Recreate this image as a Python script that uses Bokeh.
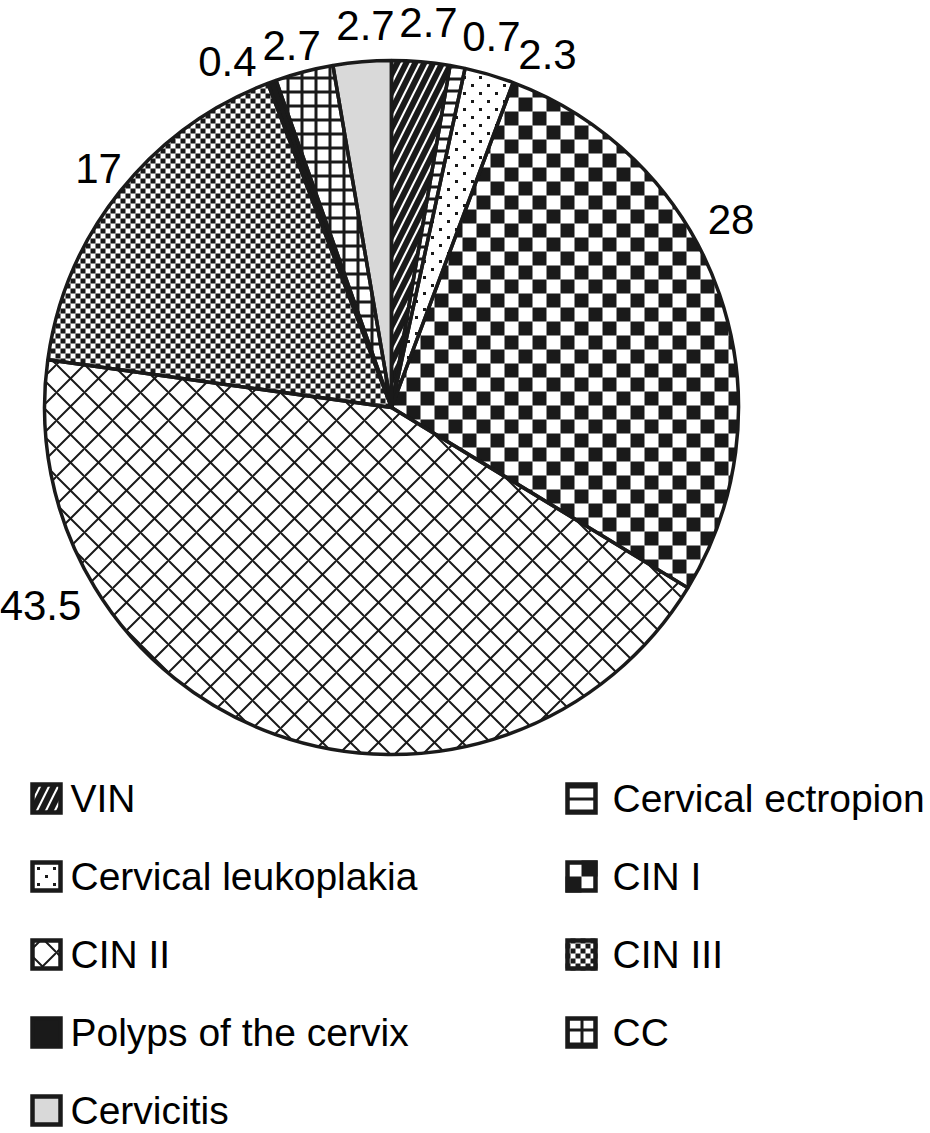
import math
from bokeh.plotting import figure
from bokeh.models import Range1d, ColumnDataSource
from bokeh.core.properties import value
from bokeh.embed import file_html
from bokeh.resources import INLINE

# ---------------- data ----------------
categories = ["VIN", "Cervical ectropion", "Cervical leukoplakia", "CIN I", "CIN II",
              "CIN III", "Polyps of the cervix", "CC", "Cervicitis"]
values = [2.7, 0.7, 2.3, 28, 43.5, 17, 0.4, 2.7, 2.7]
value_labels = ["2.7", "0.7", "2.3", "28", "43.5", "17", "0.4", "2.7", "2.7"]

# ---------------- layout / style ----------------
W, H = 930, 1133
CX, CY, R = 391, H - 407, 347
FONT = "Liberation Sans"
NUM_SIZE = "42px"
LEG_SIZE = "39px"
INK = "#1a1a1a"

# label placement (angle clockwise from 12 o'clock, distance from centre)
label_angle_deg = [5.49, 15.08, 23.84, 61.06, 240.57, 309.21, 334.64, 344.60, 356.11]
label_dist = [387, 384, 386, 388, 403, 378, 383, 376, 383]

# legend layout (screen px): two columns, rows top-down
leg_cols_x = [30, 565]          # icon left edge per column
leg_text_gap = [8, 15]
leg_row_y0, leg_row_dy = 798, 78
leg_icon = 32
leg_col_of = [0, 1, 0, 1, 0, 1, 0, 1, 0]
leg_row_of = [0, 0, 1, 1, 2, 2, 3, 3, 4]

# fill styles: ("hatch", kwargs) builtin hatch; ("checker", cell); ("dots", spacing); ("solid", color)
styles = [
    ("hatch", dict(hatch_pattern="right_diagonal_line", hatch_scale=18, hatch_weight=6)),
    ("hatch", dict(hatch_pattern="horizontal_line", hatch_scale=12, hatch_weight=3)),
    ("dots", 16),
    ("checker", 14),
    ("hatch", dict(hatch_pattern="diagonal_cross", hatch_scale=28, hatch_weight=2)),
    ("checker", 5),
    ("solid", INK),
    ("hatch", dict(hatch_pattern="cross", hatch_scale=14, hatch_weight=3)),
    ("solid", "#d9d9d9"),
]


# ---------------- geometry helpers ----------------
def clip_convex(subject, clipper):
    area = 0.0
    for i in range(len(clipper)):
        x0, y0 = clipper[i]
        x1, y1 = clipper[(i + 1) % len(clipper)]
        area += x0 * y1 - x1 * y0
    sgn = 1.0 if area > 0 else -1.0
    out = list(subject)
    for i in range(len(clipper)):
        if not out:
            break
        ax, ay = clipper[i]
        bx, by = clipper[(i + 1) % len(clipper)]

        def side(pt):
            return sgn * ((bx - ax) * (pt[1] - ay) - (by - ay) * (pt[0] - ax))

        inp, out = out, []
        s = inp[-1]
        ss = side(s)
        for e in inp:
            se = side(e)
            if se >= 0:
                if ss < 0:
                    t = ss / (ss - se)
                    out.append((s[0] + t * (e[0] - s[0]), s[1] + t * (e[1] - s[1])))
                out.append(e)
            elif ss >= 0:
                t = ss / (ss - se)
                out.append((s[0] + t * (e[0] - s[0]), s[1] + t * (e[1] - s[1])))
            s, ss = e, se
    return out


def wedge_poly(a0, a1, n=240):
    pts = [(CX, CY)]
    for k in range(n + 1):
        a = a0 + (a1 - a0) * k / n
        pts.append((CX + R * math.cos(a), CY + R * math.sin(a)))
    return pts


def make_inside_wedge(a0, a1, margin=0.0):
    span = a0 - a1

    def inside(x, y):
        dx, dy = x - CX, y - CY
        if math.hypot(dx, dy) > R - margin:
            return False
        th = math.atan2(dy, dx)
        return ((a0 - th) % (2 * math.pi)) <= span
    return inside


def square_poly(l, b, s):
    return [(l, b), (l + s, b), (l + s, b + s), (l, b + s)]


def checker_polys(cell, clipper, inside, bbox, ox=0.0, oy=0.0):
    xs, ys = [], []
    x0, y0, x1, y1 = bbox
    i0, i1 = int(math.floor((x0 - ox) / cell)) - 1, int(math.ceil((x1 - ox) / cell)) + 1
    j0, j1 = int(math.floor((y0 - oy) / cell)) - 1, int(math.ceil((y1 - oy) / cell)) + 1
    for i in range(i0, i1):
        for j in range(j0, j1):
            if (i + j) % 2:
                continue
            sq = square_poly(ox + i * cell, oy + j * cell, cell)
            if all(inside(px, py) for px, py in sq):
                poly = sq
            else:
                poly = clip_convex(sq, clipper)
                if len(poly) < 3:
                    continue
            xs.append([q[0] for q in poly])
            ys.append([q[1] for q in poly])
    return xs, ys


def dot_points(spacing, inside, bbox, ox=0.0, oy=0.0):
    px, py = [], []
    x0, y0, x1, y1 = bbox
    half = spacing / 2.0
    j0, j1 = int(math.floor((y0 - oy) / half)) - 1, int(math.ceil((y1 - oy) / half)) + 1
    i0, i1 = int(math.floor((x0 - ox) / spacing)) - 1, int(math.ceil((x1 - ox) / spacing)) + 1
    for j in range(j0, j1):
        for i in range(i0, i1):
            x = ox + i * spacing + (half if j % 2 else 0.0)
            y = oy + j * half
            if inside(x, y):
                px.append(x)
                py.append(y)
    return px, py


# ---------------- figure ----------------
p = figure(width=W, height=H, x_range=Range1d(0, W), y_range=Range1d(0, H),
           output_backend="svg", toolbar_location=None,
           x_axis_location=None, y_axis_location=None, min_border=0)
p.outline_line_color = None
p.grid.visible = False
p.background_fill_color = "white"
p.border_fill_color = "white"

cells_x, cells_y = [], []
dots_x, dots_y = [], []

total = sum(values)
cum = 0.0
angles = []
for i, v in enumerate(values):
    a0 = math.pi / 2 - 2 * math.pi * cum / total
    cum += v
    a1 = math.pi / 2 - 2 * math.pi * cum / total
    angles.append((a0, a1))
    kind, arg = styles[i]
    kw = dict(fill_color="white")
    if kind == "hatch":
        kw.update(arg)
        kw["hatch_color"] = INK
    elif kind == "solid":
        kw["fill_color"] = arg
    p.wedge(x=CX, y=CY, radius=R, start_angle=a0, end_angle=a1, direction="clock",
            line_color=None, **kw)
    if kind in ("checker", "dots"):
        poly = wedge_poly(a0, a1)
        bx = [q[0] for q in poly]
        by = [q[1] for q in poly]
        bbox = (min(bx), min(by), max(bx), max(by))
        if kind == "checker":
            xs, ys = checker_polys(arg, poly, make_inside_wedge(a0, a1), bbox)
            cells_x += xs
            cells_y += ys
        else:
            px, py = dot_points(arg, make_inside_wedge(a0, a1, margin=4), bbox)
            dots_x += px
            dots_y += py

# ---------------- legend (manual, two columns) ----------------
leg_text_x, leg_text_y = [], []
for i, name in enumerate(categories):
    col = leg_col_of[i]
    left = leg_cols_x[col]
    cy_scr = leg_row_y0 + leg_row_dy * leg_row_of[i]
    top = H - (cy_scr - leg_icon / 2)
    bottom = top - leg_icon
    right = left + leg_icon
    inset = 2
    kind, arg = styles[i]
    kw = dict(fill_color="white")
    if kind == "hatch":
        kw.update(arg)
        kw["hatch_color"] = INK
    elif kind == "solid":
        kw["fill_color"] = arg
    p.quad(left=left + inset, right=right - inset, top=top - inset, bottom=bottom + inset,
           line_color=None, **kw)
    if kind == "checker":
        sq = [(left, bottom), (right, bottom), (right, top), (left, top)]
        ins = (lambda L, B, T, Rr: (lambda x, y: L <= x <= Rr and B <= y <= T))(left, bottom, top, right)
        cell = arg if arg < 8 else leg_icon / 2
        xs, ys = checker_polys(cell, sq, ins, (left, bottom, right, top), ox=left,
                               oy=bottom + (leg_icon % (2 * cell)))
        cells_x += xs
        cells_y += ys
    elif kind == "dots":
        ins = (lambda L, B, T, Rr: (lambda x, y: L + 6 <= x <= Rr - 6 and B + 6 <= y <= T - 6))(left, bottom, top, right)
        px, py = dot_points(arg, ins, (left, bottom, right, top), ox=left + 8, oy=bottom + 8)
        dots_x += px
        dots_y += py
    p.quad(left=left + inset, right=right - inset, top=top - inset, bottom=bottom + inset,
           fill_color=None, line_color=INK, line_width=4.5, line_join="miter")
    leg_text_x.append(right + leg_text_gap[col])
    leg_text_y.append(H - cy_scr)

p.patches(xs=cells_x, ys=cells_y, fill_color=INK, line_color=None)
p.rect(x=dots_x, y=dots_y, width=3, height=3, fill_color=INK, line_color=None)

# outlines of the slices on top
for a0, a1 in angles:
    p.wedge(x=CX, y=CY, radius=R, start_angle=a0, end_angle=a1, direction="clock",
            fill_color=None, line_color=INK, line_width=3.5)

# value labels
lx = [CX + d * math.sin(math.radians(a)) for a, d in zip(label_angle_deg, label_dist)]
ly = [CY + d * math.cos(math.radians(a)) for a, d in zip(label_angle_deg, label_dist)]
src = ColumnDataSource(dict(x=lx, y=ly, t=value_labels))
p.text(x="x", y="y", text="t", source=src, text_font=value(FONT), text_font_size=NUM_SIZE,
       text_align="center", text_baseline="middle", text_color="black")

# legend labels
p.text(x=leg_text_x, y=leg_text_y, text=categories, text_font=value(FONT),
       text_font_size=LEG_SIZE, text_align="left", text_baseline="middle", text_color="black")

open("out.html", "w").write(file_html(p, INLINE))
